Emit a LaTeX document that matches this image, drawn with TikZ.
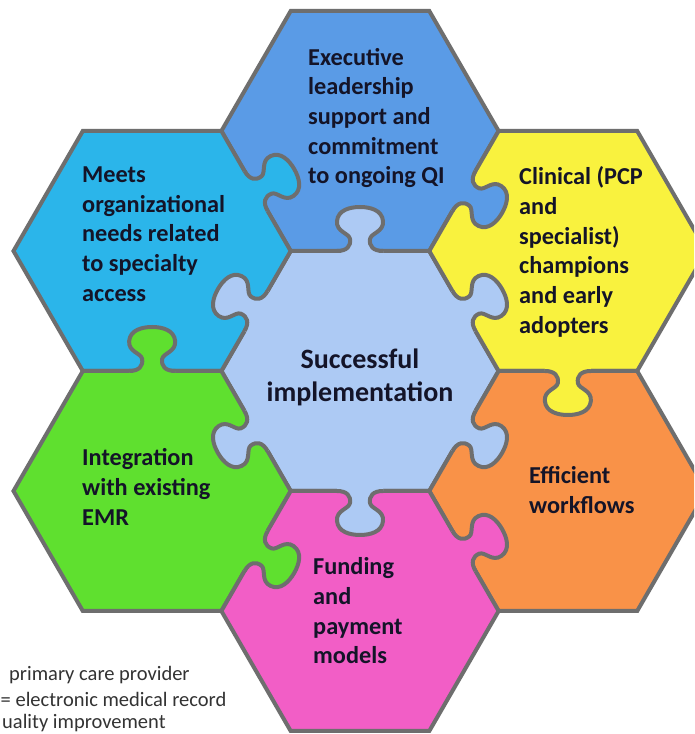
\documentclass[tikz,border=0pt]{standalone}
\usepackage{fontspec}
\setmainfont{Carlito}

\definecolor{hubblue}{HTML}{ADCAF4}
\definecolor{execblue}{HTML}{5A9BE6}
\definecolor{meetcyan}{HTML}{2BB5EA}
\definecolor{clinyellow}{HTML}{F9F23E}
\definecolor{emrgreen}{HTML}{5FE02F}
\definecolor{floworange}{HTML}{F99248}
\definecolor{fundpink}{HTML}{F25EC6}
\definecolor{edgegray}{HTML}{6E6E6E}
\definecolor{inkblack}{HTML}{141428}

\tikzset{
  pieceedge/.style={draw=edgegray, line width=4pt},
  piecetext/.style={font=\bfseries\fontsize{24.3}{29.7}\selectfont, text=inkblack, align=left, anchor=west, inner sep=0pt},
  hubtext/.style={font=\bfseries\fontsize{28}{33}\selectfont, text=inkblack, align=center, inner sep=0pt},
  abbrevtext/.style={font=\fontsize{20.5}{24.2}\selectfont, text=black!80, anchor=west, inner sep=0pt},
  pics/knob/.style={code={
    \fill[#1] (-23,-4) -- (-23,0) .. controls (-13,0) and (-9,5) .. (-10,12) .. controls (-11,18) and (-24,19) .. (-23,30) .. controls (-22,41) and (-10,44) .. (0,44) .. controls (10,44) and (22,41) .. (23,30) .. controls (24,19) and (11,18) .. (10,12) .. controls (9,5) and (13,0) .. (23,0) -- (23,-4) -- cycle;
    \draw[pieceedge] (-23,0) .. controls (-13,0) and (-9,5) .. (-10,12) .. controls (-11,18) and (-24,19) .. (-23,30) .. controls (-22,41) and (-10,44) .. (0,44) .. controls (10,44) and (22,41) .. (23,30) .. controls (24,19) and (11,18) .. (10,12) .. controls (9,5) and (13,0) .. (23,0);
  }}
}

\begin{document}
\begin{tikzpicture}[x=1pt, y=1pt]
\useasboundingbox (0,0) rectangle (694,734);
\clip (0,0) rectangle (694,734);
\fill[white] (0,0) rectangle (694,734);

% hexagon centres
\coordinate (c) at (360,363);
\coordinate (top) at (360,603);
\coordinate (bot) at (360,123);
\coordinate (ul) at (152.1,483);
\coordinate (ur) at (567.9,483);
\coordinate (ll) at (152.1,243);
\coordinate (lr) at (567.9,243);

% pieces
\foreach \p/\col in {c/hubblue, top/execblue, ul/meetcyan, ur/clinyellow, ll/emrgreen, lr/floworange, bot/fundpink}{
  \filldraw[pieceedge, fill=\col] (\p) +(138.6,0) -- +(69.3,120) -- +(-69.3,120) -- +(-138.6,0) -- +(-69.3,-120) -- +(69.3,-120) -- cycle;
}

% tabs: angle / distance / rotation / colour
\foreach \a/\d/\r/\col in {90/120/0/hubblue, 150/120/60/hubblue, 210/120/120/hubblue, 270/120/180/hubblue, 330/120/240/hubblue, 30/120/-60/hubblue,
  120/207.85/-60/meetcyan, 60/207.85/240/execblue, 0/207.85/180/clinyellow, 300/207.85/-60/fundpink, 240/207.85/240/emrgreen, 180/207.85/0/emrgreen}
  \path (c) ++(\a:\d) pic[rotate=\r]{knob=\col};

% texts
\node[piecetext] (exec) at (308,616) {Executive\\leadership\\support and\\commitment\\to ongoing QI};
\node[piecetext] (meets) at (82,500) {Meets\\organizational\\needs related\\to specialty\\access};
\node[piecetext] (clin) at (519,482) {Clinical (PCP\\and\\specialist)\\champions\\and early\\adopters};
\node[hubtext] (hub) at (360,357) {Successful\\implementation};
\node[piecetext] (emr) at (82,247) {Integration\\with existing\\EMR};
\node[piecetext] (flow) at (529,244) {Efficient\\workflows};
\node[piecetext] (fund) at (313,123) {Funding\\and\\payment\\models};

% abbreviations, as far as they show
\node[abbrevtext] (abbrevpcp) at (9,59) {primary care provider};
\node[abbrevtext] (abbrevemr) at (0.5,35) {= electronic medical record};
\node[abbrevtext] (abbrevqi) at (2,11) {uality improvement};
\end{tikzpicture}
\end{document}
